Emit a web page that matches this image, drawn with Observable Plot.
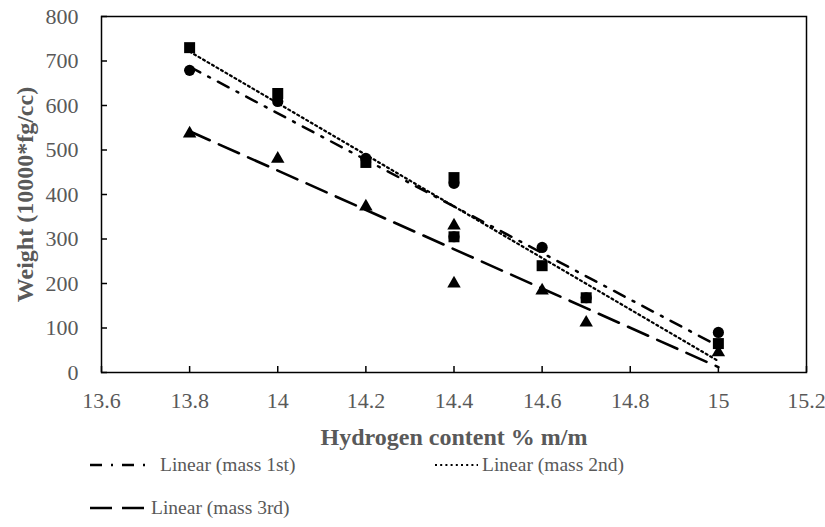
<!DOCTYPE html>
<html><head><meta charset="utf-8">
<script src="https://cdn.jsdelivr.net/npm/d3@7"></script>
<script src="https://cdn.jsdelivr.net/npm/@observablehq/plot@0.6"></script>
<style>
body{margin:0;background:#fff;font-family:"Liberation Serif",serif;}
#wrap{position:relative;width:825px;height:527px;overflow:hidden;}
#chart svg{display:block;}
#chart svg, #chart svg text{font-family:"Liberation Serif",serif !important;}
[aria-label="x-axis label"] text,[aria-label="y-axis label"] text{font-weight:bold;font-size:24px;}
.item{position:absolute;display:flex;align-items:center;font-family:"Liberation Serif",serif;font-size:19.5px;color:#595959;white-space:nowrap;line-height:1;}
.item svg{display:block;}
</style></head><body>
<div id="wrap"><div id="chart"></div><div id="legend"></div></div>
<script>
// Data
const hydrogen = [13.8, 14, 14.2, 14.4, 14.4, 14.6, 14.7, 15];
const mass1st = [679, 609, 481, 425, 305, 281, 168, 90];
const mass2nd = [730, 627, 472, 438, 305, 240, 168, 65];
const mass3rd = [537, 480, 373, 330, 200, 184, 112, 45];
const xTicks = [13.6, 13.8, 14, 14.2, 14.4, 14.6, 14.8, 15, 15.2];
const yTicks = [0, 100, 200, 300, 400, 500, 600, 700, 800];
const seriesNames = ["Linear (mass 1st)", "Linear (mass 2nd)", "Linear (mass 3rd)"];
const xTitle = "Hydrogen content % m/m";
const yTitle = "Weight (10000*fg/cc)";

const rows = vals => hydrogen.map((x, i) => ({x, y: vals[i]}));
const d1 = rows(mass1st), d2 = rows(mass2nd), d3r = rows(mass3rd);

const dashes = ["12,9,2,9", "2,3.2", "22,10"];
const widths = [2.5, 2.2, 2.6];

const chart = Plot.plot({
  width: 825, height: 455,
  marginLeft: 101, marginRight: 19, marginTop: 16, marginBottom: 83,
  x: {domain: [13.6, 15.2]},
  y: {domain: [0, 800]},
  style: {fontFamily: '"Liberation Serif",serif', fontSize: "22px", color: "#595959", background: "white"},
  marks: [
    Plot.frame({stroke: "black", strokeWidth: 1.5}),
    Plot.axisY({ticks: yTicks, tickSize: -6, tickPadding: 29, stroke: "black", strokeWidth: 1.5, fill: "#595959",
      label: yTitle, labelArrow: "none", labelAnchor: "center", labelOffset: 86, tickFormat: d => String(d)}),
    Plot.axisX({ticks: xTicks, tickSize: -6, tickPadding: 26, stroke: "black", strokeWidth: 1.5, fill: "#595959",
      label: xTitle, labelArrow: "none", labelAnchor: "center", labelOffset: 72, tickFormat: d => String(d)}),
    Plot.linearRegressionY(d1, {x: "x", y: "y", stroke: "black", ci: 0, strokeWidth: widths[0], strokeDasharray: dashes[0]}),
    Plot.linearRegressionY(d2, {x: "x", y: "y", stroke: "black", ci: 0, strokeWidth: widths[1], strokeDasharray: dashes[1]}),
    Plot.linearRegressionY(d3r, {x: "x", y: "y", stroke: "black", ci: 0, strokeWidth: widths[2], strokeDasharray: dashes[2]}),
    Plot.dot(d1, {x: "x", y: "y", symbol: "circle", r: 5.6, fill: "black", stroke: "none"}),
    Plot.dot(d2, {x: "x", y: "y", symbol: "square", r: 6.2, fill: "black", stroke: "none"}),
    Plot.dot(d3r, {x: "x", y: "y", symbol: "triangle", r: 5, fill: "black", stroke: "none"})
  ]
});
document.getElementById("chart").appendChild(chart);

// Legend (trendlines only, as in the reference)
const legendPos = [{left: 90, top: 465, w: 62, gap: 8}, {left: 435, top: 465, w: 43, gap: 4}, {left: 90, top: 508, w: 60, gap: 1}];
const legend = document.getElementById("legend");
seriesNames.forEach((name, i) => {
  const p = legendPos[i];
  const item = document.createElement("div");
  item.className = "item";
  item.style.left = p.left + "px";
  item.style.top = (p.top - 11) + "px";
  item.style.height = "22px";
  item.innerHTML = `<svg width="${p.w}" height="10" style="margin-right:${p.gap}px"><line x1="0" x2="${p.w}" y1="5" y2="5" stroke="black" stroke-width="${widths[i]}" stroke-dasharray="${dashes[i]}"/></svg><span>${name}</span>`;
  legend.appendChild(item);
});
</script>
</body></html>
